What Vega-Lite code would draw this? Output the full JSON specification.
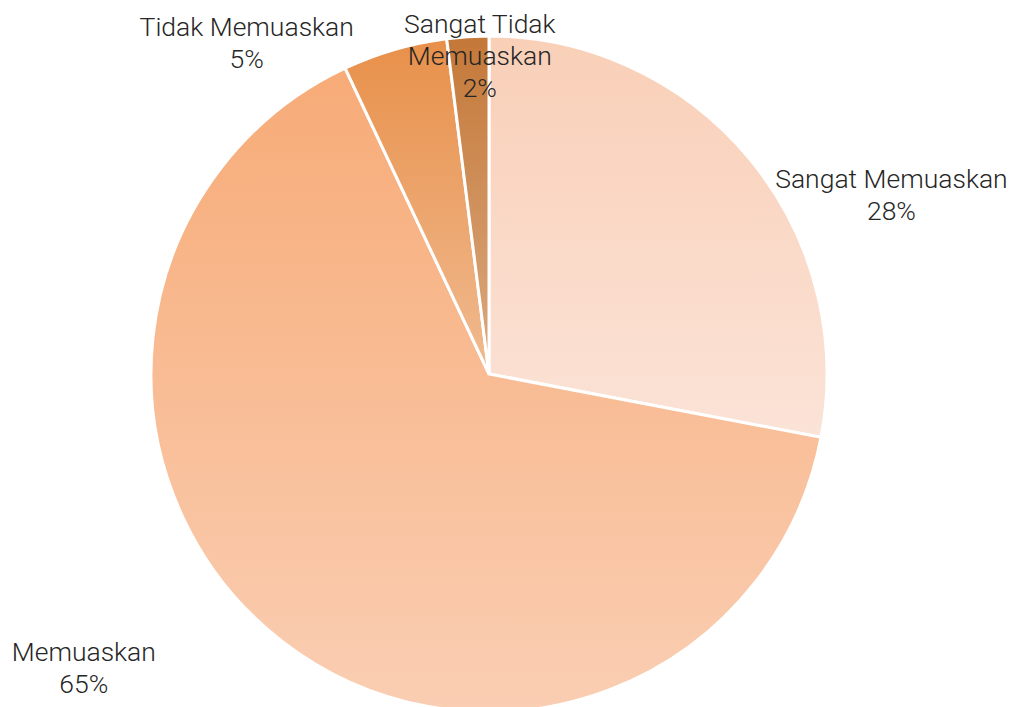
{
  "$schema": "https://vega.github.io/schema/vega-lite/v6.json",
  "width": 978,
  "height": 748,
  "autosize": "none",
  "padding": {"left": 0, "top": 0, "right": 39, "bottom": 0},
  "background": "white",
  "view": {"stroke": null},
  "config": {"text": {"font": "Roboto", "fontWeight": 300, "fontSize": 26.5, "lineHeight": 32, "color": "#262626", "align": "center", "baseline": "middle", "lineBreak": "\n"}},
  "data": {"values": [
    {"ord": 1, "name": "Sangat Memuaskan", "value": 28},
    {"ord": 2, "name": "Memuaskan", "value": 65},
    {"ord": 3, "name": "Tidak Memuaskan", "value": 5},
    {"ord": 4, "name": "Sangat Tidak\nMemuaskan", "value": 2}
  ]},
  "transform": [
    {"stack": "value", "groupby": [], "sort": [{"field": "ord"}], "as": ["start", "end"]},
    {"calculate": "(datum.start + datum.end) / 2", "as": "mid"},
    {"calculate": "datum.name + '\\n' + datum.value + '%'", "as": "label"}
  ],
  "layer": [
    {
      "transform": [{"filter": "datum.ord == 1"}],
      "mark": {"type": "arc", "outerRadius": 338, "stroke": "white", "strokeWidth": 3,
        "fill": {"gradient": "linear", "x1": 0, "y1": 0, "x2": 0, "y2": 1, "stops": [{"offset": 0, "color": "#F9CFB7"}, {"offset": 1, "color": "#FBE3D7"}]}},
      "encoding": {
        "theta": {"field": "start", "type": "quantitative", "scale": {"domain": [0, 100]}},
        "theta2": {"field": "end"}
      }
    },
    {
      "transform": [{"filter": "datum.ord == 2"}],
      "mark": {"type": "arc", "outerRadius": 338, "stroke": "white", "strokeWidth": 3,
        "fill": {"gradient": "linear", "x1": 0, "y1": 0, "x2": 0, "y2": 1, "stops": [{"offset": 0, "color": "#F7AB77"}, {"offset": 1, "color": "#FACEB3"}]}},
      "encoding": {
        "theta": {"field": "start", "type": "quantitative", "scale": {"domain": [0, 100]}},
        "theta2": {"field": "end"}
      }
    },
    {
      "transform": [{"filter": "datum.ord == 3"}],
      "mark": {"type": "arc", "outerRadius": 338, "stroke": "white", "strokeWidth": 3,
        "fill": {"gradient": "linear", "x1": 0, "y1": 0, "x2": 0, "y2": 1, "stops": [{"offset": 0, "color": "#E8904A"}, {"offset": 1, "color": "#F0BA90"}]}},
      "encoding": {
        "theta": {"field": "start", "type": "quantitative", "scale": {"domain": [0, 100]}},
        "theta2": {"field": "end"}
      }
    },
    {
      "transform": [{"filter": "datum.ord == 4"}],
      "mark": {"type": "arc", "outerRadius": 338, "stroke": "white", "strokeWidth": 3,
        "fill": {"gradient": "linear", "x1": 0, "y1": 0, "x2": 0, "y2": 1, "stops": [{"offset": 0, "color": "#C47838"}, {"offset": 1, "color": "#DBAA80"}]}},
      "encoding": {
        "theta": {"field": "start", "type": "quantitative", "scale": {"domain": [0, 100]}},
        "theta2": {"field": "end"}
      }
    },
    {
      "transform": [{"filter": "datum.ord == 1"}],
      "mark": {"type": "text", "radius": 338, "dx": 142, "dy": 21},
      "encoding": {"theta": {"field": "mid", "type": "quantitative"}, "text": {"field": "label"}}
    },
    {
      "transform": [{"filter": "datum.ord == 2"}],
      "mark": {"type": "text", "radius": 338, "dx": -198, "dy": 12},
      "encoding": {"theta": {"field": "mid", "type": "quantitative"}, "text": {"field": "label"}}
    },
    {
      "transform": [{"filter": "datum.ord == 3"}],
      "mark": {"type": "text", "radius": 338, "dx": -148, "dy": -21},
      "encoding": {"theta": {"field": "mid", "type": "quantitative"}, "text": {"field": "label"}}
    },
    {
      "transform": [{"filter": "datum.ord == 4"}],
      "mark": {"type": "text", "radius": 338, "dx": 12, "dy": -12},
      "encoding": {"theta": {"field": "mid", "type": "quantitative"}, "text": {"field": "label"}}
    }
  ]
}
